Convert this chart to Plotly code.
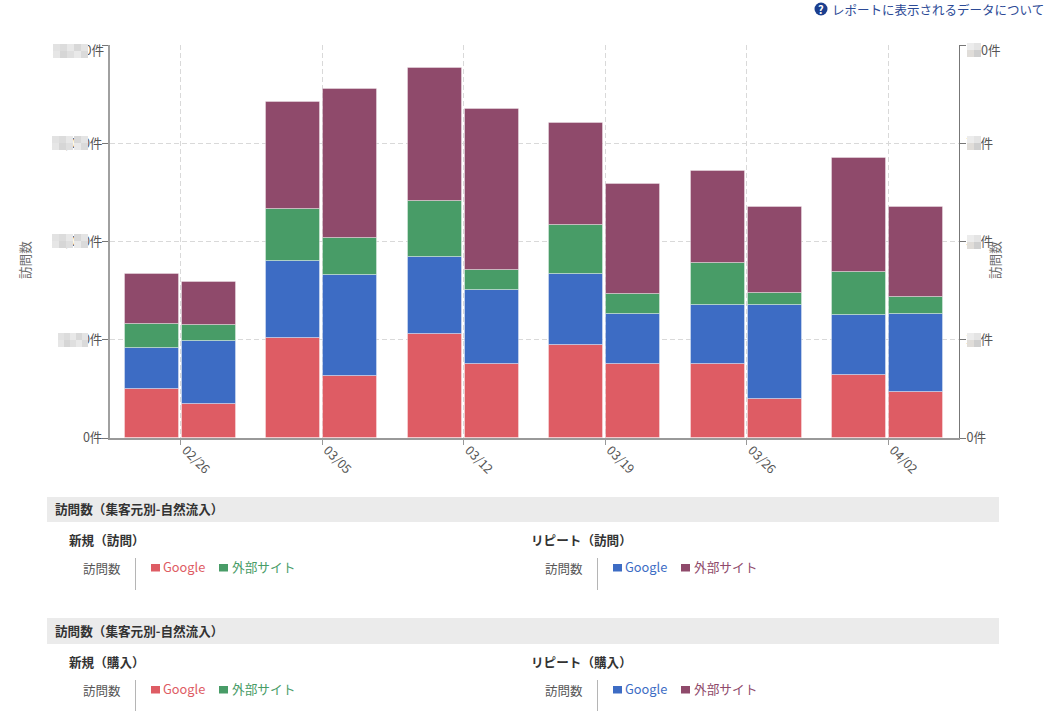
import numpy as np
import plotly.graph_objects as go

W, H = 1048, 721
L, R, T, B = 110, 959, 45, 438

dates = ["02/26", "03/05", "03/12", "03/19", "03/26", "04/02"]
# left bar of each week: 訪問
visit_new_google = [2470, 5090, 5270, 4710, 3790, 3230]
visit_rep_google = [2112, 3893, 3944, 3613, 3003, 3053]
visit_new_other = [1221, 2672, 2850, 2494, 2112, 2163]
visit_rep_other = [2519, 5420, 6768, 5216, 4707, 5801]
# right bar of each week: 購入
buy_new_google = [1755, 3155, 3790, 3790, 1960, 2365]
buy_rep_google = [3206, 5165, 3766, 2545, 4784, 3969]
buy_new_other = [814, 1857, 1018, 1018, 611, 840]
buy_rep_other = [2188, 7583, 8193, 5598, 4402, 4580]

left_ticks = [0, 5000, 10000, 15000, 20000]
left_labels = ["0件", "5,000件", "10,000件", "15,000件", ""]
right_ticks = [0, 25, 50, 75, 100]
right_labels = ["0件", "25件", "50件", "75件", ""]
left_top_label = "20,000件"
right_top_label = "100件"

RED, BLUE, GREEN, MAROON = "#DE5C64", "#3D6CC4", "#489C67", "#8F4A6B"
FONT = "Noto Sans CJK JP"
TXT = "#555555"
DARK = "#333333"
GRID = "#d9d9d9"
DASH = "5px,3px"

fig = go.Figure()


def stack(series, offset, group):
    base = np.zeros(len(dates))
    for vals, col, name in zip(series, (RED, BLUE, GREEN, MAROON),
                               ("新規 Google", "リピート Google", "新規 外部サイト", "リピート 外部サイト")):
        fig.add_bar(x=dates, y=vals, base=base.tolist(), offset=offset, width=0.381,
                    marker=dict(color=col, line=dict(color="rgba(255,255,255,0.35)", width=1)),
                    name=f"{group} {name}", showlegend=False)
        base = base + np.array(vals)


stack((visit_new_google, visit_rep_google, visit_new_other, visit_rep_other), -0.396, "訪問")
stack((buy_new_google, buy_rep_google, buy_new_other, buy_rep_other), 0.0065, "購入")
# empty trace that activates the right-hand axis
fig.add_scatter(x=dates, y=[None] * len(dates), yaxis="y2", showlegend=False, hoverinfo="skip")

PW, PH = R - L, B - T


def X(x):
    return (x - L) / PW


def Y(y):
    return (B - y) / PH


def note(text, x, y, color=TXT, size=12.6, anchor="left", bold=False, angle=0):
    pad = {"left": -2, "right": 2, "center": 0}[anchor] if angle == 0 else 0
    fig.add_annotation(text=f"<b>{text}</b>" if bold else text, xref="paper", yref="paper",
                       x=X(x + pad), y=Y(y - (1 if angle == 0 else 0)), xanchor=anchor, yanchor="middle",
                       showarrow=False, textangle=angle,
                       font=dict(family=FONT, size=size, color=color))


def rect(x0, y0, x1, y1, color, kind="rect"):
    fig.add_shape(type=kind, xref="paper", yref="paper", x0=X(x0), x1=X(x1), y0=Y(y0), y1=Y(y1),
                  fillcolor=color, line_width=0, layer="above")


def line(x, y0, y1):
    fig.add_shape(type="line", xref="paper", yref="paper", x0=X(x), x1=X(x), y0=Y(y0), y1=Y(y1),
                  line=dict(color="#b5b5b5", width=1))


def patch(x0, y0, x1, y1, color):
    fig.add_annotation(text="&nbsp;", xref="paper", yref="paper", x=X(x0), y=Y(y0),
                       xanchor="left", yanchor="top", showarrow=False, width=x1 - x0, height=y1 - y0,
                       bgcolor=color, borderpad=0, borderwidth=0, font=dict(size=1))


# top tick labels sit a little below their ticks in the reference
note(left_top_label, 103.5, 51, anchor="right")
note(right_top_label, 967, 51)

# blurred tick label digits
TOP_SHADES = ["#e2e2e2", "#dcdcdc", "#e8e8e8", "#d8d8d8", "#e4e4e4"]
LOW_SHADES = ["#e6e6e6", "#d6d6d6", "#dfdfdf", "#e9e9e9", "#dadada"]
for x0, top in ((53, 44), (52, 136), (52, 234), (58, 333)):
    n = 5 if x0 > 55 else 5
    step = (88 - x0) / n
    for i in range(n):
        patch(x0 + i * step, top, x0 + (i + 1) * step, top + 7, TOP_SHADES[i % 5])
        patch(x0 + i * step, top + 7, x0 + (i + 1) * step, top + 14, LOW_SHADES[i % 5])
for top in (43, 136, 235, 333):
    patch(967, top, 974, top + 7, "#ececec")
    patch(974, top, 981, top + 7, "#e4e4e4")
    patch(967, top + 7, 974, top + 14, "#e0ddd9")
    patch(974, top + 7, 981, top + 14, "#cfcfcf")

# help link
rect(814.5, 2.5, 827.5, 15.5, "#1B3F8F", kind="circle")
fig.add_annotation(text="<b>?</b>", xref="paper", yref="paper", x=X(821), y=Y(9), showarrow=False,
                   xanchor="center", yanchor="middle",
                   font=dict(family=FONT, size=11, color="#ffffff"))
note("レポートに表示されるデータについて", 832, 10, "#2C4A96", 12.5)

# axis titles
note("訪問数", 24, 260, "#6b6b6b", 12.6, "center", angle=-90)
note("訪問数", 994, 260, "#6b6b6b", 12.6, "center", angle=-90)

# lower tables
for top, bottom, head_y, sub_y, row_y, leg_y, s0, s1, sub_a, sub_b in (
    (497, 522, 510, 540, 569, 567.5, 558, 590, "新規（訪問）", "リピート（訪問）"),
    (618, 644, 631, 662, 691, 689.5, 680, 711, "新規（購入）", "リピート（購入）"),
):
    rect(47, top, 999, bottom, "#ebebeb")
    note("訪問数（集客元別-自然流入）", 55, head_y, DARK, 12.6, bold=True)
    note(sub_a, 69, sub_y, DARK, 12.6, bold=True)
    note(sub_b, 531, sub_y, DARK, 12.6, bold=True)
    for dx, c1, c2, sep in ((0, RED, GREEN, 135.5), (462, BLUE, MAROON, 597.5)):
        note("訪問数", 121 + dx, row_y, TXT, 12.5, "right")
        line(sep, s0, s1)
        rect(151 + dx, leg_y - 3.5, 160 + dx, leg_y + 4, c1)
        note("Google", 163 + dx, leg_y, c1, 12.8)
        rect(219 + dx, leg_y - 3.5, 228 + dx, leg_y + 4, c2)
        note("外部サイト", 232 + dx, leg_y, c2, 12.7)

fig.update_layout(
    width=W, height=H, autosize=False,
    margin=dict(l=L, r=W - R, t=T, b=H - B, pad=0),
    paper_bgcolor="white", plot_bgcolor="white",
    barmode="overlay", bargap=0,
    showlegend=False,
    font=dict(family=FONT, size=13, color=TXT),
    xaxis=dict(type="category", categoryorder="array", categoryarray=dates, range=[-0.5, 5.5],
               tickangle=45, ticks="outside", ticklen=5, tickcolor="#999999", tickwidth=1,
               ticklabelshift=5, ticklabelstandoff=-7,
               showgrid=True, gridcolor=GRID, griddash=DASH, gridwidth=1,
               showline=True, linecolor="#999999", linewidth=2, zeroline=False,
               tickfont=dict(family=FONT, size=12.6, color=TXT)),
    yaxis=dict(range=[0, 20000], tickmode="array", tickvals=left_ticks, ticktext=left_labels,
               ticks="outside", ticklen=6, tickcolor="#777777", tickwidth=1,
               ticklabelstandoff=-3,
               showgrid=True, gridcolor=GRID, griddash=DASH, gridwidth=1,
               showline=True, linecolor="#a0a0a0", linewidth=2, zeroline=False,
               tickfont=dict(family=FONT, size=12.6, color=TXT)),
    yaxis2=dict(range=[0, 100], overlaying="y", side="right", tickmode="array",
                tickvals=right_ticks, ticktext=right_labels,
                ticks="outside", ticklen=6, tickcolor="#777777", tickwidth=1,
                ticklabelstandoff=-2,
                showgrid=False, showline=True, linecolor="#777777", linewidth=1, zeroline=False,
                tickfont=dict(family=FONT, size=12.6, color=TXT)),
)

fig.write_html("out.html", config={"displayModeBar": False},
               post_script="document.body.style.margin='0';document.body.style.overflow='hidden';")
